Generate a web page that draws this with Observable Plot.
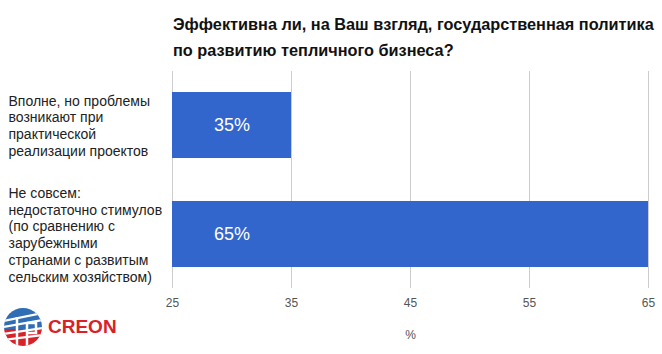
<!DOCTYPE html>
<html>
<head>
<meta charset="utf-8">
<script src="https://cdn.jsdelivr.net/npm/d3@7"></script>
<script src="https://cdn.jsdelivr.net/npm/@observablehq/plot@0.6"></script>
<style>
  html, body { margin: 0; padding: 0; background: #fff; }
  #wrap { position: relative; width: 662px; height: 354px; overflow: hidden; font-family: Arial, "Liberation Sans", sans-serif; }
  #title { box-sizing: border-box; height: 62px; padding: 11px 0 0 173px; font-weight: bold; font-size: 16.3px; line-height: 26px; color: #111; white-space: nowrap; }
  #chart svg { display: block; }
  #logo { position: absolute; left: 3px; top: 307px; display: flex; align-items: center; }
  #logo span { color: #d92128; font-weight: bold; font-size: 19px; margin-left: 5px; }
</style>
</head>
<body>
<div id="wrap">
  <div id="title">Эффективна ли, на Ваш взгляд, государственная политика<br>по развитию тепличного бизнеса?</div>
  <div id="chart"></div>
  <div id="logo">
    <svg width="40" height="40" viewBox="0 0 40 40">
      <defs><clipPath id="c"><circle cx="20" cy="20" r="19"/></clipPath></defs>
      <g clip-path="url(#c)">
        <rect x="0" y="0" width="40" height="22" fill="#2f6db5"/>
        <rect x="0" y="22" width="40" height="18" fill="#d92128"/>
        <path d="M0 14 L40 6 M0 20 L40 13 M0 27 L40 21 M0 33 L40 28" stroke="#fff" stroke-width="2.2" fill="none"/>
        <path d="M14 10 V40 M24 16 V40 M24 16 H33 V26 H24" stroke="#fff" stroke-width="2.5" fill="none"/>
      </g>
    </svg>
    <span>CREON</span>
  </div>
</div>
<script>
const categories = [
  "Вполне, но проблемы\nвозникают при\nпрактической\nреализации проектов",
  "Не совсем:\nнедостаточно стимулов\n(по сравнению с\nзарубежными\nстранами с развитым\nсельским хозяйством)"
];
const values = [35, 65];
const xTicks = [25, 35, 45, 55, 65];
const axisLabel = "%";

const data = categories.map((c, i) => ({category: c, value: values[i]}));

const chart = Plot.plot({
  width: 662,
  height: 292,
  marginTop: 9,
  marginLeft: 172,
  marginRight: 14,
  marginBottom: 66,
  style: {fontFamily: "Arial, 'Liberation Sans', sans-serif", fontSize: "12px", color: "#555", background: "#fff"},
  x: {domain: [xTicks[0], xTicks[xTicks.length - 1]]},
  y: {domain: categories, paddingInner: 0.393, paddingOuter: 0.187, axis: null},
  marks: [
    Plot.ruleX(xTicks, {stroke: "#cccccc", strokeWidth: 1}),
    Plot.barX(data, {y: "category", x1: () => xTicks[0], x2: "value", fill: "#3366cc"}),
    Plot.text(data, {
      y: "category",
      x: () => (xTicks[0] + xTicks[1]) / 2,
      text: d => d.value + "%",
      fill: "white",
      fontSize: 18
    }),
    Plot.text(data, {
      y: "category",
      text: "category",
      frameAnchor: "left",
      textAnchor: "start",
      dx: -164,
      fontSize: 14,
      lineHeight: 1.21,
      fill: "#222"
    }),
    Plot.axisX({
      ticks: xTicks,
      tickSize: 0,
      tickPadding: 10,
      label: axisLabel,
      labelAnchor: "center",
      labelArrow: "none",
      labelOffset: 50,
      fill: "#555"
    })
  ]
});
document.getElementById("chart").appendChild(chart);
</script>
</body>
</html>
